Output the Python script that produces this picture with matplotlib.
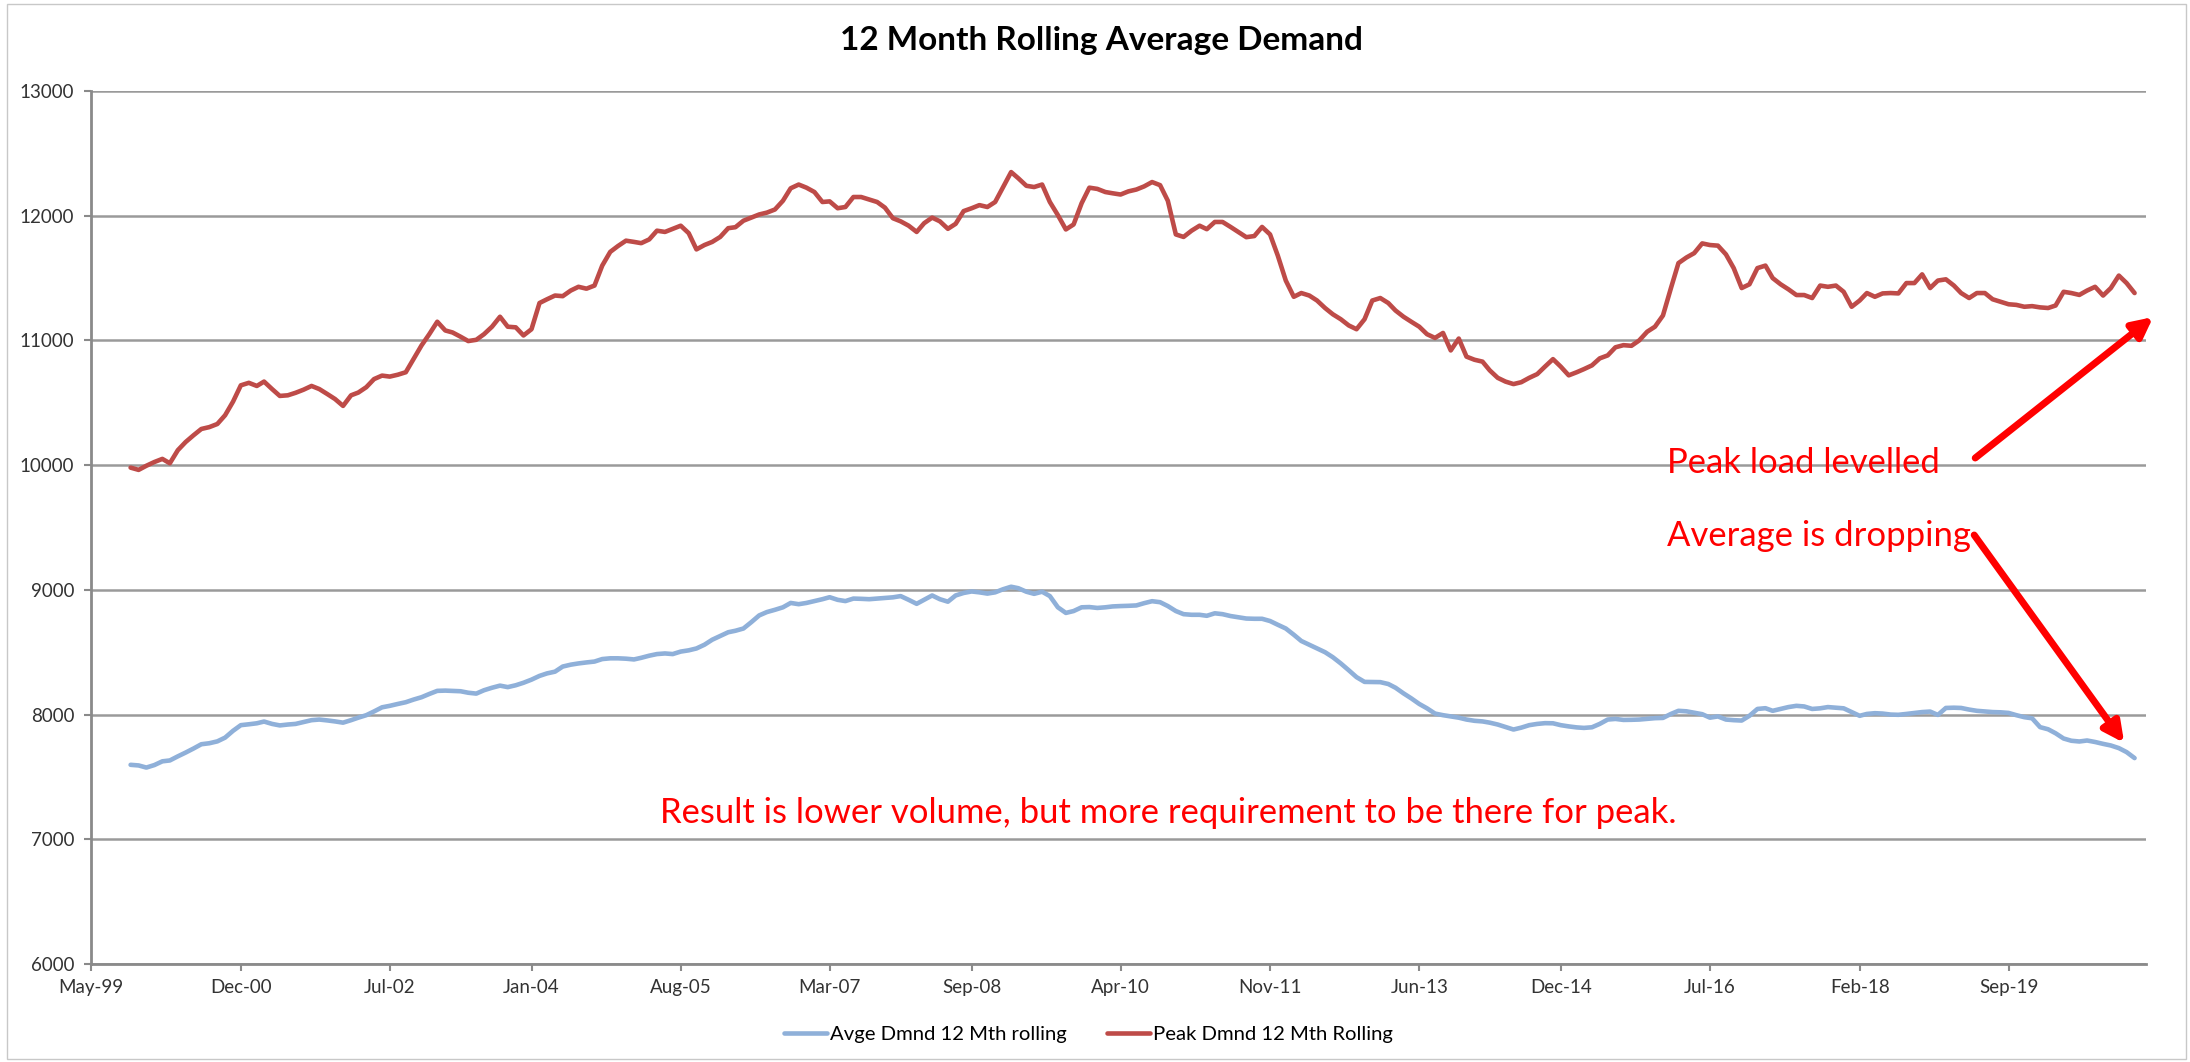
import numpy as np
import pandas as pd
import matplotlib
matplotlib.use("Agg")
import matplotlib.pyplot as plt
from matplotlib.patches import Rectangle

plt.rcParams['font.family'] = ['Lato', 'DejaVu Sans']

# monthly 12-month rolling values, Oct-1999 .. Jan-2021
peak = [
    9980, 9962, 9995,
    10025, 10050, 10015, 10120, 10185, 10240, 10290, 10305, 10330, 10400, 10510, 10640,
    10660, 10635, 10670, 10610, 10555, 10560, 10580, 10605, 10635, 10610, 10570, 10530,
    10475, 10560, 10582, 10625, 10690, 10718, 10710, 10725, 10745, 10850, 10960, 11050,
    11150, 11080, 11064, 11030, 10995, 11005, 11050, 11110, 11190, 11110, 11105, 11040,
    11090, 11300, 11330, 11360, 11355, 11400, 11430, 11415, 11440, 11600, 11710, 11757,
    11800, 11790, 11780, 11810, 11880, 11870, 11895, 11920, 11860, 11730, 11765, 11790,
    11830, 11900, 11908, 11960, 11985, 12010, 12025, 12050, 12120, 12220, 12250, 12225,
    12190, 12110, 12115, 12060, 12070, 12150, 12150, 12130, 12110, 12065, 11980, 11955,
    11920, 11870, 11940, 11985, 11955, 11895, 11935, 12037, 12060, 12085, 12070, 12110,
    12230, 12350, 12300, 12240, 12230, 12250, 12110, 12005, 11890, 11930, 12100, 12225,
    12215, 12190, 12180, 12170, 12195, 12210, 12235, 12270, 12245, 12120, 11850, 11830,
    11880, 11920, 11892, 11950, 11950, 11910, 11870, 11828, 11837, 11910, 11850, 11680,
    11480, 11350, 11380, 11360, 11320, 11260, 11210, 11170, 11120, 11090, 11170, 11320,
    11340, 11300, 11240, 11190, 11150, 11110, 11050, 11020, 11060, 10920, 11015, 10870,
    10845, 10830, 10760, 10700, 10670, 10650, 10665, 10700, 10730, 10790, 10850, 10790,
    10720, 10745, 10770, 10800, 10856, 10880, 10945, 10962, 10957, 11000, 11070, 11110,
    11200, 11420, 11620, 11665, 11700, 11778, 11765, 11760, 11690, 11580, 11420, 11450,
    11580, 11600, 11500, 11450, 11410, 11364, 11364, 11340, 11440, 11430, 11440, 11390,
    11270, 11320, 11380, 11350, 11377, 11380, 11377, 11460, 11460, 11530, 11420, 11480,
    11490, 11440, 11380, 11340, 11380, 11380, 11330, 11310, 11290, 11285, 11270, 11275,
    11265, 11260, 11280, 11390, 11380, 11365, 11400, 11430, 11360, 11420, 11520, 11460,
    11380,
]

avge = [
    7597, 7592, 7575,
    7595, 7625, 7632, 7665, 7695, 7728, 7762, 7770, 7785, 7815, 7870, 7915,
    7922, 7930, 7944, 7925, 7913, 7920, 7925, 7940, 7955, 7960, 7953, 7945,
    7935, 7955, 7975, 7995, 8025, 8058, 8070, 8085, 8099, 8120, 8139, 8165,
    8190, 8192, 8190, 8187, 8175, 8168, 8195, 8215, 8232, 8220, 8235, 8255,
    8280, 8310, 8330, 8344, 8385, 8400, 8410, 8418, 8425, 8445, 8451, 8451,
    8448, 8442, 8455, 8472, 8485, 8490, 8485, 8505, 8515, 8530, 8560, 8600,
    8630, 8660, 8672, 8690, 8740, 8795, 8822, 8840, 8860, 8895, 8885, 8895,
    8910, 8925, 8941, 8920, 8910, 8930, 8928, 8925, 8930, 8935, 8940, 8950,
    8920, 8888, 8920, 8955, 8925, 8905, 8955, 8975, 8987, 8980, 8970, 8980,
    9005, 9025, 9013, 8985, 8968, 8985, 8950, 8860, 8815, 8830, 8860, 8862,
    8855, 8860, 8867, 8870, 8872, 8875, 8893, 8909, 8901, 8870, 8830, 8805,
    8800, 8800, 8792, 8812, 8805, 8790, 8780, 8770, 8768, 8768, 8750, 8720,
    8690, 8640, 8590, 8560, 8530, 8500, 8460, 8410, 8355, 8300, 8262, 8261,
    8260, 8245, 8215, 8170, 8130, 8085, 8050, 8008, 7995, 7985, 7975, 7960,
    7950, 7945, 7935, 7920, 7900, 7880, 7895, 7915, 7925, 7931, 7930, 7915,
    7905, 7897, 7893, 7898, 7925, 7960, 7965, 7957, 7958, 7960, 7966, 7971,
    7973, 8005, 8030, 8026, 8015, 8003, 7975, 7985, 7960, 7955, 7952, 7990,
    8045, 8051, 8030, 8045, 8060, 8070, 8065, 8045, 8050, 8060, 8055, 8050,
    8020, 7990, 8005, 8011, 8008, 8000, 7998, 8005, 8013, 8020, 8024, 7997,
    8053, 8055, 8053, 8040, 8030, 8025, 8020, 8018, 8013, 7995, 7979, 7970,
    7899, 7882, 7850, 7808, 7790, 7784, 7792, 7780, 7765, 7752, 7731, 7699,
    7651,
]

months = pd.date_range('1999-10-01', periods=len(peak), freq='MS')

tick_labels = ['May-99', 'Dec-00', 'Jul-02', 'Jan-04', 'Aug-05', 'Mar-07', 'Sep-08',
               'Apr-10', 'Nov-11', 'Jun-13', 'Dec-14', 'Jul-16', 'Feb-18', 'Sep-19']
tick_dates = pd.to_datetime(tick_labels, format='%b-%y')
y_ticks = [6000, 7000, 8000, 9000, 10000, 11000, 12000, 13000]

fig = plt.figure(figsize=(21.9, 10.62), dpi=100)
ax = fig.add_axes([0.0416, 0.0923, 0.9384, 0.822])

grid_c = '#9a9a9a'
ax.plot(months, avge, color='#8fb0d9', lw=3.3, solid_capstyle='round',
        label='Avge Dmnd 12 Mth rolling', zorder=3)
ax.plot(months, peak, color='#be4b48', lw=3.3, solid_capstyle='round',
        label='Peak Dmnd 12 Mth Rolling', zorder=3)

ax.set_xlim(pd.Timestamp('1999-05-01'), pd.Timestamp('2021-02-15'))
ax.set_ylim(6000, 13000)
ax.set_yticks(y_ticks)
ax.set_yticklabels([str(v) for v in y_ticks])
ax.set_xticks(tick_dates)
ax.set_xticklabels(tick_labels)
ax.yaxis.grid(True, color=grid_c, lw=1.8, zorder=1)
ax.set_axisbelow(True)

for s in ['top', 'right']:
    ax.spines[s].set_visible(False)
for s in ['left', 'bottom']:
    ax.spines[s].set_color('#8a8a8a')
    ax.spines[s].set_linewidth(2)
ax.tick_params(axis='both', direction='out', length=5, width=1.5, color='#8a8a8a',
               labelsize=13.5, labelcolor='#333333')
ax.tick_params(axis='y', pad=7)
ax.tick_params(axis='x', pad=6)

fig.text(0.503, 0.953, '12 Month Rolling Average Demand', ha='center', va='baseline',
         fontsize=24, fontweight='bold', color='black')

fig.legend(loc='center', bbox_to_anchor=(0.497, 0.026), ncol=2, frameon=False,
           fontsize=14.6, handlelength=2.1, handletextpad=0.15, columnspacing=2.0)

red = '#ff0000'
ax.text(0.2769, 0.1615, 'Result is lower volume, but more requirement to be there for peak.',
        transform=ax.transAxes, color=red, fontsize=24.9, va='baseline', ha='left')
ax.text(0.767, 0.5624, 'Peak load levelled', transform=ax.transAxes, color=red,
        fontsize=24.9, va='baseline', ha='left')
ax.text(0.767, 0.4788, 'Average is dropping', transform=ax.transAxes, color=red,
        fontsize=24.9, va='baseline', ha='left')

arrow = dict(arrowstyle='-|>,head_length=1.2,head_width=0.6', color=red, lw=5,
             shrinkA=0, shrinkB=0)
ax.annotate('', xy=(1.0034, 0.7411), xytext=(0.9168, 0.5796), xycoords='axes fraction',
            textcoords='axes fraction', arrowprops=arrow, annotation_clip=False)
ax.annotate('', xy=(0.9893, 0.2532), xytext=(0.9163, 0.4914), xycoords='axes fraction',
            textcoords='axes fraction', arrowprops=arrow, annotation_clip=False)

fig.patches.append(Rectangle((0.003, 0.003), 0.995, 0.993, transform=fig.transFigure,
                             fill=False, edgecolor='#c8c8c8', lw=1))

fig.savefig('out.png', dpi=100)
